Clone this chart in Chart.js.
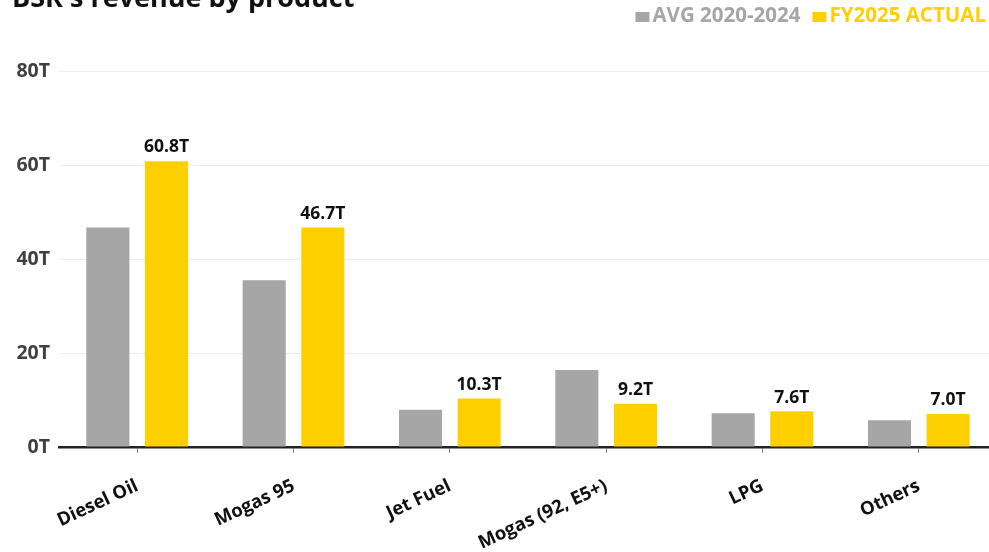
<!DOCTYPE html>
<html>
<head>
<meta charset="utf-8">
<script src="https://cdn.jsdelivr.net/npm/chart.js@4"></script>
<style>
  html, body { margin: 0; padding: 0; background: #fff; overflow: hidden; }
  #wrap { position: absolute; left: 0; top: 0; width: 1000px; height: 552px; }
</style>
</head>
<body>
<div id="wrap"><canvas id="chart" width="1000" height="552"></canvas></div>
<script>
const title = "BSR's revenue by product"
const products = ['Diesel Oil', 'Mogas 95', 'Jet Fuel', 'Mogas (92, E5+)', 'LPG', 'Others']
const avg2020to2024 = [46.7, 35.5, 7.9, 16.4, 7.2, 5.7]
const fy2025Actual = [60.8, 46.7, 10.3, 9.2, 7.6, 7.0]
const yTicks = [0, 20, 40, 60, 80]

const GRAY = '#A6A6A6'
const YELLOW = '#FFD000'
const FONT = "'Open Sans', sans-serif"

// title, legend and value labels drawn on the canvas
const extras = {
  id: 'extras',
  afterDraw(chart) {
    const ctx = chart.ctx
    ctx.save()

    // title (top is cut off in the original)
    ctx.font = 'bold 27px ' + FONT
    ctx.fillStyle = '#111'
    ctx.textAlign = 'left'
    ctx.textBaseline = 'alphabetic'
    ctx.fillText(title, 12, 7)

    // legend, right aligned
    ctx.font = 'bold 20.5px ' + FONT
    ctx.textBaseline = 'middle'
    let x = 986
    const items = chart.data.datasets.slice().reverse()
    items.forEach((ds) => {
      const w = ctx.measureText(ds.label).width
      x -= w
      ctx.fillStyle = ds.backgroundColor
      ctx.fillText(ds.label, x, 16)
      ctx.fillRect(x - 17, 12, 14, 10)
      x -= 17 + 12
    })

    // value labels above the FY2025 bars
    const meta = chart.getDatasetMeta(1)
    ctx.font = 'bold 17.5px ' + FONT
    ctx.fillStyle = '#111'
    ctx.textAlign = 'center'
    ctx.textBaseline = 'bottom'
    meta.data.forEach((bar, i) => {
      ctx.fillText(fy2025Actual[i].toFixed(1) + 'T', bar.x, bar.y - 5)
    })
    ctx.restore()
  }
}

new Chart(document.getElementById('chart'), {
  type: 'bar',
  data: {
    labels: products,
    datasets: [
      { label: 'AVG 2020-2024', data: avg2020to2024, backgroundColor: GRAY },
      { label: 'FY2025 ACTUAL', data: fy2025Actual, backgroundColor: YELLOW }
    ]
  },
  options: {
    responsive: false,
    devicePixelRatio: 1,
    animation: false,
    layout: { padding: { top: 71, right: 3, left: 0, bottom: 0 } },
    datasets: { bar: { categoryPercentage: 0.75, barPercentage: 0.735 } },
    plugins: {
      legend: { display: false },
      tooltip: { enabled: false }
    },
    scales: {
      x: {
        grid: { offset: false, drawOnChartArea: false, drawTicks: true, tickLength: 6, color: '#888' },
        border: { display: true, color: '#222', width: 2.5 },
        ticks: {
          minRotation: 25,
          maxRotation: 25,
          padding: 22,
          color: '#111',
          font: { family: FONT, size: 18.5, weight: 'bold' }
        },
        afterFit(scale) { scale.height = 105 }
      },
      y: {
        min: 0,
        max: 80,
        afterBuildTicks(scale) { scale.ticks = yTicks.map(v => ({ value: v })) },
        grid: { color: '#ececec', drawTicks: false },
        border: { display: false },
        ticks: {
          padding: 9,
          color: '#404040',
          font: { family: FONT, size: 19.5, weight: 'bold' },
          callback: (v) => v + 'T'
        },
        afterFit(scale) { scale.width = 59 }
      }
    }
  },
  plugins: [extras]
})
</script>
</body>
</html>
